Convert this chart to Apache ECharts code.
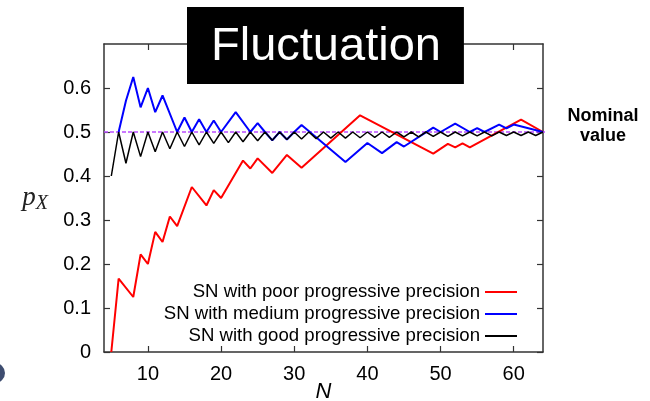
<!DOCTYPE html>
<html>
<head>
<meta charset="utf-8">
<script src="https://cdn.jsdelivr.net/npm/echarts@6/dist/echarts.min.js"></script>
<style>
html,body{margin:0;padding:0;background:#fff;}
#chart{width:650px;height:401px;}
</style>
</head>
<body>
<div id="chart"></div>
<script>
// ---- data ----
const xTicks = [10, 20, 30, 40, 50, 60];
const yTicks = [0, 0.1, 0.2, 0.3, 0.4, 0.5, 0.6];

const poorN = [5, 6, 8, 9, 10, 11, 12, 13, 14, 16, 18, 19, 20, 23, 24, 25, 27, 29, 31, 39, 49, 51, 52, 53, 54, 61, 64];
const poorP = [0, 0.167, 0.125, 0.222, 0.2, 0.273, 0.25, 0.308, 0.286, 0.375, 0.333, 0.368, 0.35, 0.435, 0.417, 0.44, 0.407, 0.448, 0.419, 0.538, 0.451, 0.473, 0.465, 0.474, 0.465, 0.528, 0.5];

const mediumN = [6, 7, 8, 9, 10, 11, 12, 14, 15, 16, 17, 18, 19, 20, 22, 24, 25, 26, 27, 28, 29, 30, 31, 37, 40, 42, 44, 45, 49, 50, 52, 54, 55, 56, 58, 59, 60, 64];
const mediumP = [0.5, 0.571, 0.625, 0.556, 0.6, 0.545, 0.583, 0.5, 0.533, 0.5, 0.529, 0.5, 0.526, 0.5, 0.545, 0.5, 0.52, 0.5, 0.481, 0.5, 0.483, 0.5, 0.516, 0.432, 0.475, 0.452, 0.477, 0.467, 0.51, 0.5, 0.519, 0.5, 0.509, 0.5, 0.517, 0.508, 0.517, 0.5];

const goodN = [5, 6, 7, 8, 9, 10, 11, 12, 13, 14, 15, 16, 17, 18, 19, 20, 21, 22, 23, 24, 25, 26, 27, 28, 29, 30, 31, 32, 33, 34, 35, 36, 37, 38, 39, 40, 41, 42, 43, 44, 45, 46, 47, 48, 49, 50, 51, 52, 53, 54, 55, 56, 57, 58, 59, 60, 61, 62, 63, 64];
const goodP = [0.4, 0.5, 0.429, 0.5, 0.444, 0.5, 0.455, 0.5, 0.462, 0.5, 0.467, 0.5, 0.471, 0.5, 0.474, 0.5, 0.476, 0.5, 0.478, 0.5, 0.48, 0.5, 0.481, 0.5, 0.483, 0.5, 0.484, 0.5, 0.485, 0.5, 0.486, 0.5, 0.486, 0.5, 0.487, 0.5, 0.488, 0.5, 0.488, 0.5, 0.489, 0.5, 0.489, 0.5, 0.49, 0.5, 0.49, 0.5, 0.491, 0.5, 0.491, 0.5, 0.491, 0.5, 0.492, 0.5, 0.492, 0.5, 0.492, 0.5];

const nominalN = [4, 68];
const nominalP = [0.5, 0.5];

const seriesNames = ['SN with poor progressive precision', 'SN with medium progressive precision', 'SN with good progressive precision'];

// ---- chart ----
const zip = (a, b) => a.map((v, i) => [v, b[i]]);
const chart = echarts.init(document.getElementById('chart'));
const SANS = '"Liberation Sans", Arial, sans-serif';
const SERIF = '"Liberation Serif", "Times New Roman", serif';
const axisLine = { show: true, onZero: false, lineStyle: { color: '#333', width: 1.5 } };
const tickStyle = { color: '#333', width: 1.2 };

chart.setOption({
  backgroundColor: '#fff',
  animation: false,
  title: {
    text: 'Fluctuation',
    left: 187, top: 7,
    backgroundColor: '#000',
    padding: [15, 23, 12, 24],
    textStyle: { color: '#fff', fontSize: 47, fontWeight: 'normal', fontFamily: SANS, lineHeight: 50 }
  },
  grid: { left: 104, right: 107, top: 44, bottom: 49, outerBoundsMode: 'none', containLabel: false },
  legend: {
    data: seriesNames.map(n => ({ name: n, icon: 'rect' })),
    orient: 'vertical',
    align: 'right',
    right: 133, top: 281,
    padding: 0,
    itemGap: 0,
    itemWidth: 32, itemHeight: 2,
    textStyle: { fontSize: 18.6, fontFamily: SANS, color: '#000', lineHeight: 22 }
  },
  xAxis: [{
    type: 'value', min: 4, max: 64, position: 'bottom',
    name: 'N', nameLocation: 'middle', nameGap: 29, nameMoveOverlap: false,
    nameTextStyle: { fontSize: 22, fontStyle: 'italic', fontFamily: SANS, color: '#000' },
    axisLine: axisLine,
    axisTick: { show: true, inside: true, length: 6, customValues: xTicks, lineStyle: tickStyle },
    axisLabel: { customValues: xTicks, fontSize: 20, fontFamily: SANS, color: '#000', margin: 12 },
    splitLine: { show: false }
  }, {
    type: 'value', min: 4, max: 64, position: 'top',
    axisLine: axisLine,
    axisTick: { show: true, inside: true, length: 6, customValues: xTicks, lineStyle: tickStyle },
    axisLabel: { show: false },
    splitLine: { show: false }
  }],
  yAxis: [{
    type: 'value', min: 0, max: 0.7, interval: 0.1, position: 'left',
    name: '{p|p}{x|X}', nameLocation: 'middle', nameRotate: 0, nameGap: 56, nameMoveOverlap: false,
    nameTextStyle: {
      rich: {
        p: { fontSize: 27, fontStyle: 'italic', fontFamily: SERIF, color: '#222' },
        x: { fontSize: 20, fontStyle: 'italic', fontFamily: SERIF, color: '#222', padding: [12, 0, 0, 0] }
      }
    },
    axisLine: axisLine,
    axisTick: { show: true, inside: true, length: 6, customValues: yTicks, lineStyle: tickStyle },
    axisLabel: {
      customValues: yTicks,
      fontSize: 20, fontFamily: SANS, color: '#000', margin: 13,
      formatter: v => (v === 0 ? '0' : v.toFixed(1))
    },
    splitLine: { show: false }
  }, {
    type: 'value', min: 0, max: 0.7, interval: 0.1, position: 'right',
    axisLine: axisLine,
    axisTick: { show: true, inside: true, length: 6, customValues: yTicks, lineStyle: tickStyle },
    axisLabel: { show: false },
    splitLine: { show: false }
  }],
  series: [{
    name: 'nominal', type: 'line', data: zip(nominalN, nominalP),
    symbol: 'none', clip: false, z: 1, silent: true,
    lineStyle: { color: '#b94dff', width: 1.5, type: [4, 2] }
  }, {
    name: seriesNames[0], type: 'line', data: zip(poorN, poorP), symbol: 'none', z: 2,
    color: '#ff0000', lineStyle: { color: '#ff0000', width: 2 }
  }, {
    name: seriesNames[1], type: 'line', data: zip(mediumN, mediumP), symbol: 'none', z: 3,
    color: '#0000ff', lineStyle: { color: '#0000ff', width: 2 }
  }, {
    name: seriesNames[2], type: 'line', data: zip(goodN, goodP), symbol: 'none', z: 4,
    color: '#000000', lineStyle: { color: '#000000', width: 1.5 }
  }],
  graphic: [{
    type: 'text', x: 603, y: 106,
    style: { text: 'Nominal\nvalue', align: 'center', textAlign: 'center', fill: '#000', font: 'bold 18px "Liberation Sans", Arial, sans-serif', lineHeight: 20 }
  }, {
    type: 'circle', shape: { cx: -5, cy: 373, r: 10 }, style: { fill: '#3e4d70' }
  }]
});
</script>
</body>
</html>
